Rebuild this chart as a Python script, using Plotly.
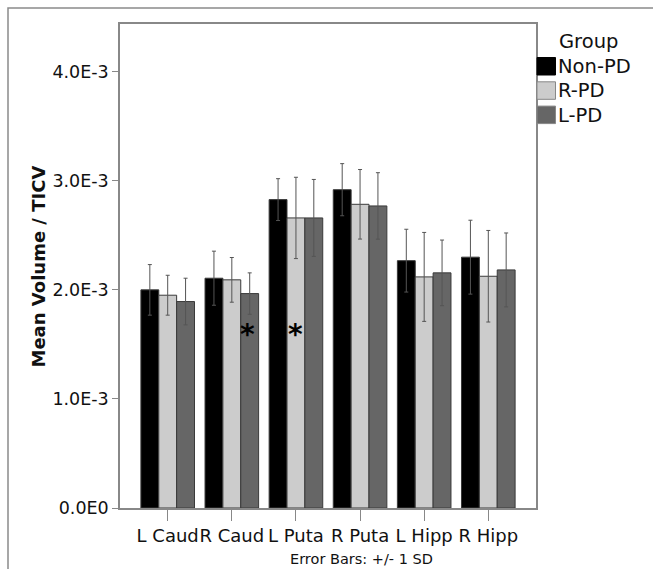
import plotly.graph_objects as go

regions = ["L Caud", "R Caud", "L Puta", "R Puta", "L Hipp", "R Hipp"]
groups = ["Non-PD", "R-PD", "L-PD"]

mean_non_pd = [2.001e-3, 2.108e-3, 2.829e-3, 2.920e-3, 2.269e-3, 2.301e-3]
mean_r_pd = [1.952e-3, 2.093e-3, 2.661e-3, 2.786e-3, 2.120e-3, 2.126e-3]
mean_l_pd = [1.894e-3, 1.967e-3, 2.661e-3, 2.771e-3, 2.157e-3, 2.184e-3]

sd_non_pd = [0.232e-3, 0.248e-3, 0.192e-3, 0.239e-3, 0.288e-3, 0.339e-3]
sd_r_pd = [0.183e-3, 0.205e-3, 0.373e-3, 0.319e-3, 0.408e-3, 0.420e-3]
sd_l_pd = [0.214e-3, 0.190e-3, 0.353e-3, 0.305e-3, 0.301e-3, 0.339e-3]

y_tick_vals = [0.0, 1.0e-3, 2.0e-3, 3.0e-3, 4.0e-3]
y_tick_text = ["0.0E0", "1.0E-3", "2.0E-3", "3.0E-3", "4.0E-3"]

# significance markers: (region, group)
significant = [("R Caud", "L-PD"), ("L Puta", "R-PD")]

colors = ["#000000", "#cccccc", "#666666"]
means = [mean_non_pd, mean_r_pd, mean_l_pd]
sds = [sd_non_pd, sd_r_pd, sd_l_pd]

W, H = 653, 569
ML, MR, MT, MB = 120, 117, 24, 61
PW = W - ML - MR
PH = H - MT - MB


def px2x(px):
    return (px - ML) / PW


def py2y(py):
    return (H - MB - py) / PH


FONT = "DejaVu Sans"
fig = go.Figure()
for g, c, m, s in zip(groups, colors, means, sds):
    fig.add_trace(go.Bar(
        name=g, x=regions, y=m,
        marker=dict(color=c, line=dict(color="#3a3a3a", width=1)),
        error_y=dict(type="data", array=s, visible=True, color="#555555",
                     thickness=1, width=2),
        showlegend=False,
    ))

shapes = []
annotations = []

# outer frame
shapes.append(dict(type="rect", xref="paper", yref="paper",
                   x0=px2x(8), x1=px2x(700), y0=py2y(620), y1=py2y(8),
                   line=dict(color="#8a8a8a", width=1.5), fillcolor="rgba(0,0,0,0)",
                   layer="below"))

# legend (manual, larger swatches)
annotations.append(dict(text="Group", xref="paper", yref="paper", x=px2x(557), y=py2y(41),
                        xanchor="left", yanchor="middle", showarrow=False,
                        font=dict(family=FONT, size=19.5, color="#111111")))
for i, (g, c) in enumerate(zip(groups, colors)):
    top = 57.5 + i * 24.3
    shapes.append(dict(type="rect", xref="paper", yref="paper",
                       x0=px2x(537), x1=px2x(555.5), y0=py2y(top + 17.5), y1=py2y(top),
                       fillcolor=c, line=dict(color="#888888" if i else "#000000", width=1)))
    annotations.append(dict(text=g, xref="paper", yref="paper", x=px2x(556), y=py2y(top + 9),
                            xanchor="left", yanchor="middle", showarrow=False,
                            font=dict(family=FONT, size=19.5, color="#111111")))

# y-axis title
annotations.append(dict(text="<b>Mean Volume / TICV</b>", xref="paper", yref="paper",
                        x=px2x(38), y=py2y(266.5), textangle=-90, showarrow=False,
                        xanchor="center", yanchor="middle",
                        font=dict(family=FONT, size=18, color="#111111")))

# footnote
annotations.append(dict(text="Error Bars: +/- 1 SD", xref="paper", yref="paper",
                        x=px2x(361), y=py2y(559), showarrow=False,
                        xanchor="center", yanchor="middle",
                        font=dict(family=FONT, size=14.5, color="#111111")))

# significance asterisks
bar_px = PW / (6 + 2 * 0.744) * (1 - 0.164) / 3
for reg, grp in significant:
    gi = groups.index(grp)
    annotations.append(dict(text="<b>*</b>", x=reg, y=1.656e-3, xref="x", yref="y",
                            xshift=(gi - 1) * bar_px, yshift=-7, showarrow=False,
                            font=dict(family=FONT, size=28, color="#000000")))

fig.update_layout(
    width=W, height=H, autosize=False,
    margin=dict(l=ML, r=MR, t=MT, b=MB, pad=0, autoexpand=False),
    paper_bgcolor="white", plot_bgcolor="white",
    barmode="group", bargap=0.164, bargroupgap=0,
    font=dict(family=FONT, color="#111111"),
    shapes=shapes, annotations=annotations,
    xaxis=dict(type="category", range=[-0.744, 5.744], showgrid=False,
               automargin=False, tickangle=0,
               showline=True, linecolor="#888888", linewidth=1.5, mirror=True,
               ticks="outside", ticklen=11, tickcolor="#888888", tickwidth=1,
               tickfont=dict(family=FONT, size=18, color="#111111")),
    yaxis=dict(range=[0, 4.44e-3], showgrid=False, zeroline=False, automargin=False,
               showline=True, linecolor="#888888", linewidth=1.5, mirror=True,
               ticks="outside", ticklen=6, tickcolor="#888888", tickwidth=1,
               tickvals=y_tick_vals, ticktext=y_tick_text,
               tickfont=dict(family=FONT, size=17.5, color="#111111")),
)

fig.write_html(
    "out.html",
    config={"displayModeBar": False},
    post_script="document.body.style.margin='0';document.body.style.overflow='hidden';",
)
